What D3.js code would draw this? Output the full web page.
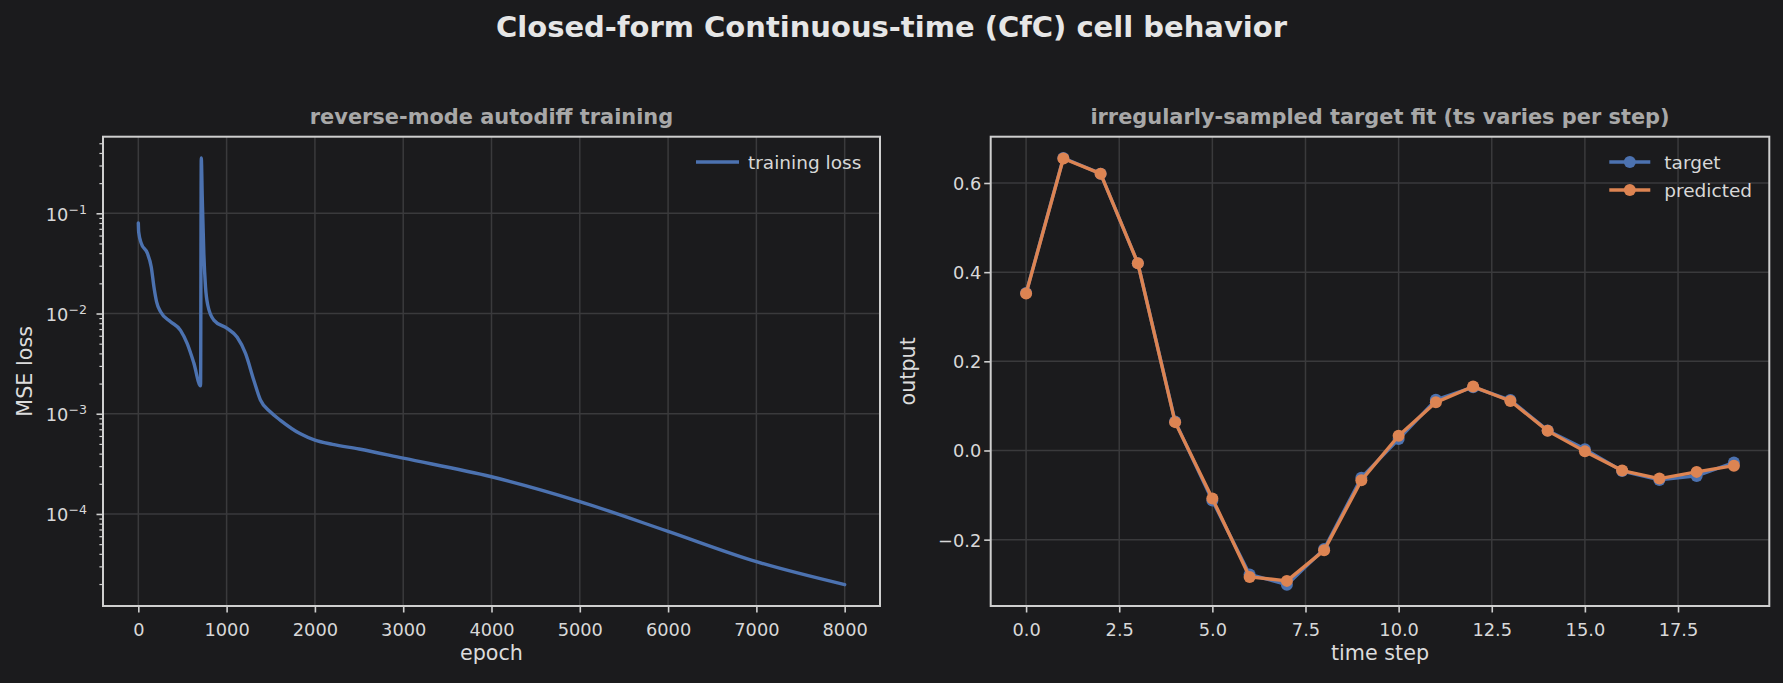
<!DOCTYPE html>
<html>
<head>
<meta charset="utf-8">
<script src="https://cdn.jsdelivr.net/npm/d3@7"></script>
<style>
  body { margin: 0; background: #1b1b1d; }
  svg text { font-family: "DejaVu Sans", sans-serif; }
</style>
</head>
<body>
<svg id="chart" width="1783" height="683"></svg>
<script>
// loss curve (epoch, MSE)
var lossEpochs = [0, 4, 34, 102, 147, 177, 207, 252, 365, 478, 554, 629, 705, 713, 724, 742, 761, 787,
  855, 1006, 1120, 1214, 1308, 1383, 1497, 1610, 1836, 2000, 2200, 2500, 3000, 4000, 5000, 6000, 7000, 8000];
var lossValues = [0.080, 0.065, 0.050, 0.040, 0.029, 0.0184, 0.0131, 0.0104, 0.0083, 0.0068, 0.0050, 0.0032,
  0.0019, 0.356, 0.146, 0.0396, 0.0184, 0.0121, 0.0086, 0.0071, 0.0058, 0.0040, 0.00216, 0.00137, 0.00104,
  0.00086, 0.00063, 0.000545, 0.000495, 0.000445, 0.00036, 0.000235, 0.000133, 0.000067, 0.0000334, 0.0000197];

var timeSteps = [0, 1, 2, 3, 4, 5, 6, 7, 8, 9, 10, 11, 12, 13, 14, 15, 16, 17, 18, 19];
var targetValues = [0.353, 0.656, 0.621, 0.420, 0.065, -0.112, -0.278, -0.301, -0.221, -0.061,
  0.0255, 0.1136, 0.142, 0.113, 0.045, 0.003, -0.046, -0.066, -0.057, -0.027];
var predictedValues = [0.352, 0.655, 0.621, 0.420, 0.0636, -0.1075, -0.2836, -0.2925, -0.224, -0.067,
  0.033, 0.108, 0.1434, 0.111, 0.044, -0.002, -0.045, -0.063, -0.048, -0.034];

var epochTicks = [0, 1000, 2000, 3000, 4000, 5000, 6000, 7000, 8000];
var timeTicks = [0, 2.5, 5, 7.5, 10, 12.5, 15, 17.5];
var outputTicks = [-0.2, 0, 0.2, 0.4, 0.6];

var BLUE = '#4c72b0', ORANGE = '#dd8452';
var GRID = '#3a3a3c', SPINE = '#cfcfcf', TICKTXT = '#d8d8d8';
var LW = 3.4, MR = 6;

var svg = d3.select('#chart');
svg.append('rect').attr('width', 1783).attr('height', 683).attr('fill', '#1b1b1d');

svg.append('text')
  .attr('x', 891.5).attr('y', 36.5)
  .attr('text-anchor', 'middle')
  .attr('font-size', 29).attr('font-weight', 'bold')
  .attr('fill', '#e6e6e6')
  .text('Closed-form Continuous-time (CfC) cell behavior');

var plotTop = 136.7, plotBottom = 606;
var leftBox = { x0: 103, x1: 880 };
var rightBox = { x0: 990.7, x1: 1769.3 };

// matplotlib-style 5% margins
function padLinear(ext) {
  var d = (ext[1] - ext[0]) * 0.05;
  return [ext[0] - d, ext[1] + d];
}
function padLog(ext) {
  var a = Math.log10(ext[0]), b = Math.log10(ext[1]), d = (b - a) * 0.05;
  return [Math.pow(10, a - d), Math.pow(10, b + d)];
}

function styleAxis(g) {
  g.select('.domain').remove();
  g.selectAll('.tick line').attr('stroke', SPINE).attr('stroke-width', 1.6);
  g.selectAll('.tick text').attr('fill', TICKTXT).attr('font-size', 17.8)
    .attr('font-family', '"DejaVu Sans", sans-serif');
}

function frame(g, box, xScale, yScale, xVals, yVals) {
  g.append('g').selectAll('line').data(xVals).enter().append('line')
    .attr('x1', function(d) { return xScale(d); }).attr('x2', function(d) { return xScale(d); })
    .attr('y1', plotTop).attr('y2', plotBottom)
    .attr('stroke', GRID).attr('stroke-width', 1.5);
  g.append('g').selectAll('line').data(yVals).enter().append('line')
    .attr('y1', function(d) { return yScale(d); }).attr('y2', function(d) { return yScale(d); })
    .attr('x1', box.x0).attr('x2', box.x1)
    .attr('stroke', GRID).attr('stroke-width', 1.5);
}

function spines(g, box) {
  g.append('rect')
    .attr('x', box.x0).attr('y', plotTop)
    .attr('width', box.x1 - box.x0).attr('height', plotBottom - plotTop)
    .attr('fill', 'none').attr('stroke', SPINE).attr('stroke-width', 2);
}

// ---------- left panel: training loss ----------
var lossPoints = lossEpochs.map(function(e, i) { return { e: e, v: lossValues[i] }; });

var xLoss = d3.scaleLinear().domain(padLinear(d3.extent(lossEpochs))).range([leftBox.x0, leftBox.x1]);
var yLoss = d3.scaleLog().domain(padLog(d3.extent(lossValues))).range([plotBottom, plotTop]);

var allLogTicks = yLoss.ticks();
var majorLog = allLogTicks.filter(function(d) { return Math.abs(Math.log10(d) - Math.round(Math.log10(d))) < 1e-9; });
var minorLog = allLogTicks.filter(function(d) { return majorLog.indexOf(d) < 0; });

var gl = svg.append('g');
frame(gl, leftBox, xLoss, yLoss, epochTicks, majorLog);

gl.append('path')
  .datum(lossPoints)
  .attr('fill', 'none').attr('stroke', BLUE).attr('stroke-width', LW)
  .attr('stroke-linejoin', 'round').attr('stroke-linecap', 'round')
  .attr('d', d3.line()
    .x(function(d) { return xLoss(d.e); })
    .y(function(d) { return yLoss(d.v); })
    .curve(d3.curveMonotoneX));

spines(gl, leftBox);

var gx1 = gl.append('g').attr('transform', 'translate(0,' + plotBottom + ')')
  .call(d3.axisBottom(xLoss).tickValues(epochTicks).tickSize(6.5).tickPadding(10.5).tickFormat(d3.format('d')));
styleAxis(gx1);

gl.append('g').attr('transform', 'translate(' + leftBox.x0 + ',0)')
  .call(d3.axisLeft(yLoss).tickValues(minorLog).tickSize(3.6).tickFormat(''))
  .call(function(g) { styleAxis(g); g.selectAll('.tick line').attr('stroke-width', 1.2); });

var gy1 = gl.append('g').attr('transform', 'translate(' + leftBox.x0 + ',0)')
  .call(d3.axisLeft(yLoss).tickValues(majorLog).tickSize(6.5).tickPadding(9.5).tickFormat(''));
styleAxis(gy1);
gy1.selectAll('.tick text').each(function(d) {
  var t = d3.select(this).attr('dy', '0.38em');
  t.append('tspan').text('10');
  t.append('tspan').attr('dy', -7).attr('font-size', 12.6)
    .text('\u2212' + Math.abs(Math.round(Math.log10(d))));
});

gl.append('text')
  .attr('x', (leftBox.x0 + leftBox.x1) / 2).attr('y', 124)
  .attr('text-anchor', 'middle').attr('font-size', 20.9).attr('font-weight', 'bold')
  .attr('fill', '#a8a8a8')
  .text('reverse-mode autodiff training');

gl.append('text')
  .attr('x', (leftBox.x0 + leftBox.x1) / 2).attr('y', 660)
  .attr('text-anchor', 'middle').attr('font-size', 20.7).attr('fill', '#dcdcdc')
  .text('epoch');

gl.append('text')
  .attr('transform', 'translate(31.5,' + (plotTop + plotBottom) / 2 + ') rotate(-90)')
  .attr('text-anchor', 'middle').attr('font-size', 20.7).attr('fill', '#dcdcdc')
  .text('MSE loss');

var legL = gl.append('g');
legL.append('line')
  .attr('x1', leftBox.x1 - 184).attr('x2', leftBox.x1 - 141).attr('y1', 162).attr('y2', 162)
  .attr('stroke', BLUE).attr('stroke-width', LW);
legL.append('text')
  .attr('x', leftBox.x1 - 132).attr('y', 169)
  .attr('font-size', 18.5).attr('fill', '#d8d8d8')
  .text('training loss');

// ---------- right panel: target fit ----------
var xTime = d3.scaleLinear().domain(padLinear(d3.extent(timeSteps))).range([rightBox.x0, rightBox.x1]);
var yOut = d3.scaleLinear()
  .domain(padLinear([d3.min(targetValues.concat(predictedValues)), d3.max(targetValues.concat(predictedValues))]))
  .range([plotBottom, plotTop]);

var gr = svg.append('g');
frame(gr, rightBox, xTime, yOut, timeTicks, outputTicks);

var series = [
  { name: 'target', color: BLUE, values: targetValues },
  { name: 'predicted', color: ORANGE, values: predictedValues }
];

var fitLine = d3.line()
  .x(function(d, i) { return xTime(timeSteps[i]); })
  .y(function(d) { return yOut(d); });

series.forEach(function(s) {
  var g = gr.append('g');
  g.append('path')
    .datum(s.values)
    .attr('fill', 'none').attr('stroke', s.color).attr('stroke-width', LW)
    .attr('stroke-linejoin', 'round')
    .attr('d', fitLine);
  g.selectAll('circle').data(s.values).enter().append('circle')
    .attr('cx', function(d, i) { return xTime(timeSteps[i]); })
    .attr('cy', function(d) { return yOut(d); })
    .attr('r', MR)
    .attr('fill', s.color);
});

spines(gr, rightBox);

var gx2 = gr.append('g').attr('transform', 'translate(0,' + plotBottom + ')')
  .call(d3.axisBottom(xTime).tickValues(timeTicks).tickSize(6.5).tickPadding(10.5).tickFormat(d3.format('.1f')));
styleAxis(gx2);

var gy2 = gr.append('g').attr('transform', 'translate(' + rightBox.x0 + ',0)')
  .call(d3.axisLeft(yOut).tickValues(outputTicks).tickSize(6.5).tickPadding(3).tickFormat(d3.format('.1f')));
styleAxis(gy2);
gy2.selectAll('.tick text').attr('dy', '0.36em');

gr.append('text')
  .attr('x', (rightBox.x0 + rightBox.x1) / 2).attr('y', 124)
  .attr('text-anchor', 'middle').attr('font-size', 20.9).attr('font-weight', 'bold')
  .attr('fill', '#a8a8a8')
  .text('irregularly-sampled target fit (ts varies per step)');

gr.append('text')
  .attr('x', (rightBox.x0 + rightBox.x1) / 2).attr('y', 660)
  .attr('text-anchor', 'middle').attr('font-size', 20.7).attr('fill', '#dcdcdc')
  .text('time step');

gr.append('text')
  .attr('transform', 'translate(915,' + (plotTop + plotBottom) / 2 + ') rotate(-90)')
  .attr('text-anchor', 'middle').attr('font-size', 20.7).attr('fill', '#dcdcdc')
  .text('output');

var legR = gr.append('g').selectAll('g').data(series).enter().append('g')
  .attr('transform', function(d, i) { return 'translate(0,' + (162 + i * 28) + ')'; });
legR.append('line')
  .attr('x1', rightBox.x1 - 160).attr('x2', rightBox.x1 - 119).attr('y1', 0).attr('y2', 0)
  .attr('stroke', function(d) { return d.color; }).attr('stroke-width', LW);
legR.append('circle')
  .attr('cx', rightBox.x1 - 139.5).attr('cy', 0).attr('r', MR)
  .attr('fill', function(d) { return d.color; });
legR.append('text')
  .attr('x', rightBox.x1 - 105).attr('y', 7)
  .attr('font-size', 18.5).attr('fill', '#d8d8d8')
  .text(function(d) { return d.name; });
</script>
</body>
</html>
